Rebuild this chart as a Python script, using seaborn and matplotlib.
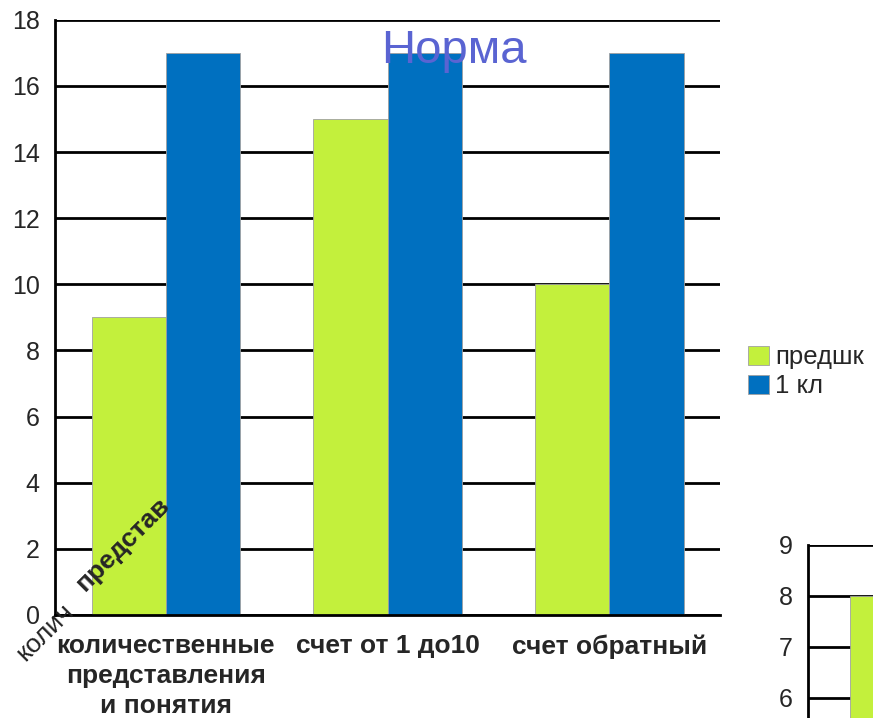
import matplotlib
matplotlib.use('Agg')
import matplotlib.pyplot as plt
import pandas as pd
import seaborn as sns

# data
categories = ['количественные\nпредставления\nи понятия', 'счет от 1 до10', 'счет обратный']
series = ['предшк', '1 кл']
predshk = [9, 15, 10]
kl1 = [17, 17, 17]
# second chart, only its top left corner is visible
second_cat = ['количественные\nпредставления\nи понятия']
second_vals = [8]

green = '#c3f03c'
blue = '#0070c0'

sns.set_style('white')
plt.rcParams['font.family'] = ['Liberation Sans', 'DejaVu Sans']

df = pd.DataFrame({
    'cat': categories * 2,
    'val': predshk + kl1,
    'series': [series[0]] * 3 + [series[1]] * 3,
})

fig = plt.figure(figsize=(8.73, 7.18), dpi=100)
ax = fig.add_axes([0.063, 0.1435, 0.762, 0.829])

sns.barplot(data=df, x='cat', y='val', hue='series', palette=[green, blue],
            width=0.67, ax=ax, edgecolor='#a0a0a0', linewidth=0.6, saturation=1)

ax.set_ylim(0, 18)
ax.set_xlim(-0.5, 2.5)
ax.set_yticks(range(0, 19, 2))
ax.yaxis.grid(True, color='black', linewidth=2)
ax.set_axisbelow(True)
for s in ['top', 'right']:
    ax.spines[s].set_visible(False)
for s in ['left', 'bottom']:
    ax.spines[s].set_color('black')
    ax.spines[s].set_linewidth(2)
ax.tick_params(axis='y', direction='out', length=8, width=2, color='black',
               labelsize=18, pad=3)
ax.tick_params(axis='x', which='major', length=0, labelsize=19, pad=14)
ax.set_xticks([0.5, 1.5], minor=True)
ax.tick_params(axis='x', which='minor', direction='out', length=8, width=2, color='black')
for t in ax.get_xticklabels():
    t.set_fontweight('bold')
    t.set_linespacing(1.3)
ax.set_xlabel('')
ax.set_ylabel('')

ax.legend_.remove()
h, l = ax.get_legend_handles_labels()
fig.legend(h, l, loc='center left', bbox_to_anchor=(0.857, 0.482), frameon=False,
           fontsize=18.5, handlelength=0.8, handleheight=0.8, handletextpad=0.25,
           labelspacing=0.2, borderaxespad=0, borderpad=0)

ax.text(0.60, 0.928, 'Норма', transform=ax.transAxes, color='#5a64d2',
        fontsize=34, ha='center', va='baseline')

# rotated axis label remains
fig.text(0.0286, 0.078, 'колич', rotation=45, fontsize=19, ha='left', va='baseline',
         rotation_mode='anchor', color='#222222')
fig.text(0.097, 0.1755, 'представ', rotation=45, fontsize=19, fontweight='bold',
         ha='left', va='baseline', rotation_mode='anchor')

# second chart peeking in at the bottom right
ax2 = fig.add_axes([0.9256, -0.398, 0.763, 0.639])
sns.barplot(x=second_cat, y=second_vals, color=green, width=0.62, ax=ax2,
            edgecolor='#a0a0a0', linewidth=0.6, saturation=1)
ax2.set_xlim(-0.5, 2.5)
ax2.set_ylim(0, 9)
ax2.set_yticks(range(6, 10))
ax2.yaxis.grid(True, color='black', linewidth=2)
ax2.set_axisbelow(True)
for s in ['top', 'right']:
    ax2.spines[s].set_visible(False)
ax2.spines['left'].set_color('black')
ax2.spines['left'].set_linewidth(2)
ax2.tick_params(axis='y', direction='out', length=8, width=2, color='black',
                labelsize=18, pad=3)
ax2.set_xticks([])

fig.savefig('out.png', dpi=100)
